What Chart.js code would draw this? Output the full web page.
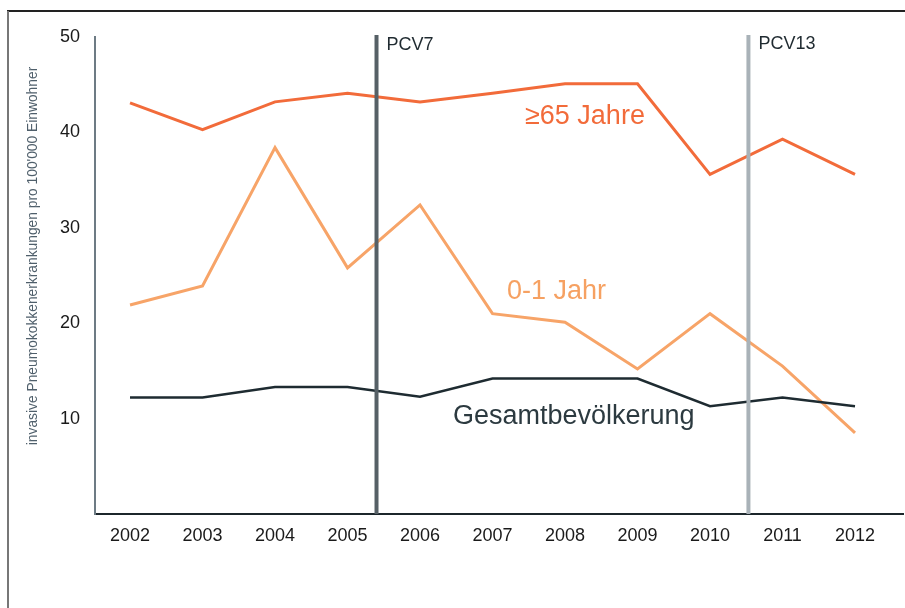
<!DOCTYPE html>
<html>
<head>
<meta charset="utf-8">
<script src="https://cdn.jsdelivr.net/npm/chart.js@4.4.1/dist/chart.umd.min.js"></script>
<style>
  html, body { margin: 0; padding: 0; background: #fff; }
  canvas { display: block; }
</style>
</head>
<body>
<canvas id="chart" width="905" height="608"></canvas>
<script>
// Daten
var jahre = [2002, 2003, 2004, 2005, 2006, 2007, 2008, 2009, 2010, 2011, 2012];
var ab65 = [43.1, 40.3, 43.2, 44.1, 43.2, 44.1, 45.1, 45.1, 35.6, 39.3, 35.6];
var saeugl = [21.9, 23.9, 38.4, 25.8, 32.4, 21.0, 20.1, 15.2, 21.0, 15.5, 8.5];
var gesamt = [12.2, 12.2, 13.3, 13.3, 12.3, 14.2, 14.2, 14.2, 11.3, 12.2, 11.3];
var yTicks = [0, 10, 20, 30, 40, 50];
var impfJahre = [2005.4, 2010.53];
var impfNamen = ['PCV7', 'PCV13'];
var yTitel = "invasive Pneumokokkenerkrankungen pro 100'000 Einwohner";

(function () {
    var FONT = "'Liberation Sans', Arial, Helvetica, sans-serif";

    function serie(werte) {
        return werte.map(function (v, i) { return { x: jahre[i], y: v }; });
    }

    function impfLinie(jahr, farbe) {
        return {
            data: [{ x: jahr, y: 0 }, { x: jahr, y: 50.2 }],
            borderColor: farbe,
            borderWidth: 4,
            pointRadius: 0,
            clip: false
        };
    }

    // Beschriftungen im Diagramm, Achsentitel, Rahmen
    var texte = {
        id: 'texte',
        afterDatasetsDraw: function (chart) {
            var ctx = chart.ctx, x = chart.scales.x;
            ctx.save();
            ctx.textBaseline = 'middle';
            ctx.textAlign = 'left';

            ctx.font = '18px ' + FONT;
            ctx.fillStyle = '#1f2a30';
            impfJahre.forEach(function (j, i) {
                ctx.fillText(impfNamen[i], x.getPixelForValue(j) + 10, i ? 44 : 45);
            });

            ctx.font = '27px ' + FONT;
            ctx.fillStyle = '#f26b3a';
            ctx.fillText('≥65 Jahre', 525, 117);

            ctx.font = '27px ' + FONT;
            ctx.fillStyle = '#f6a162';
            ctx.fillText('0-1 Jahr', 507, 292);

            ctx.font = '27px ' + FONT;
            ctx.fillStyle = '#2c3a40';
            ctx.fillText('Gesamtbevölkerung', 453, 417);

            // y-Achsentitel
            ctx.save();
            ctx.translate(33, 256);
            ctx.rotate(-Math.PI / 2);
            ctx.textAlign = 'center';
            ctx.font = '13.8px ' + FONT;
            ctx.fillStyle = '#4f5f6b';
            ctx.fillText(yTitel, 0, 0);
            ctx.restore();

            // Rahmen oben / links
            ctx.lineWidth = 2;
            ctx.strokeStyle = '#222';
            ctx.beginPath(); ctx.moveTo(7, 11); ctx.lineTo(905, 11); ctx.stroke();
            ctx.strokeStyle = '#777';
            ctx.beginPath(); ctx.moveTo(8, 11); ctx.lineTo(8, 608); ctx.stroke();
            ctx.restore();
        }
    };

    new Chart(document.getElementById('chart'), {
        type: 'line',
        data: {
            datasets: [
                impfLinie(impfJahre[0], '#566066'),
                impfLinie(impfJahre[1], '#a9b2b8'),
                { data: serie(gesamt), borderColor: '#1e2b31', borderWidth: 2.5, pointRadius: 0 },
                { data: serie(saeugl), borderColor: '#f7a468', borderWidth: 3, pointRadius: 0 },
                { data: serie(ab65), borderColor: '#f26b3a', borderWidth: 3, pointRadius: 0 }
            ]
        },
        options: {
            responsive: false,
            animation: false,
            devicePixelRatio: 1,
            layout: { padding: { top: 37, right: 2, left: 0, bottom: 0 } },
            plugins: { legend: { display: false }, tooltip: { enabled: false } },
            elements: { line: { tension: 0 } },
            scales: {
                x: {
                    type: 'linear',
                    min: 2001.517,
                    max: 2012.662,
                    grid: { display: false, drawTicks: false },
                    border: { color: '#1c262b', width: 2 },
                    ticks: {
                        padding: 11,
                        color: '#1a1a1a',
                        font: { family: FONT, size: 18 },
                        callback: function (v) { return String(v); }
                    },
                    afterBuildTicks: function (s) {
                        s.ticks = jahre.map(function (j) { return { value: j }; });
                    },
                    afterFit: function (s) { s.height = 94; }
                },
                y: {
                    min: 0,
                    max: 50,
                    grid: { display: false, drawTicks: false },
                    border: { color: '#6d7b84', width: 2 },
                    ticks: {
                        padding: 15,
                        color: '#1a1a1a',
                        font: { family: FONT, size: 18 },
                        callback: function (v) { return v === 0 ? '' : v; }
                    },
                    afterBuildTicks: function (s) {
                        s.ticks = yTicks.map(function (v) { return { value: v }; });
                    },
                    afterFit: function (s) { s.width = 95; }
                }
            }
        },
        plugins: [texte]
    });
})();
</script>
</body>
</html>
